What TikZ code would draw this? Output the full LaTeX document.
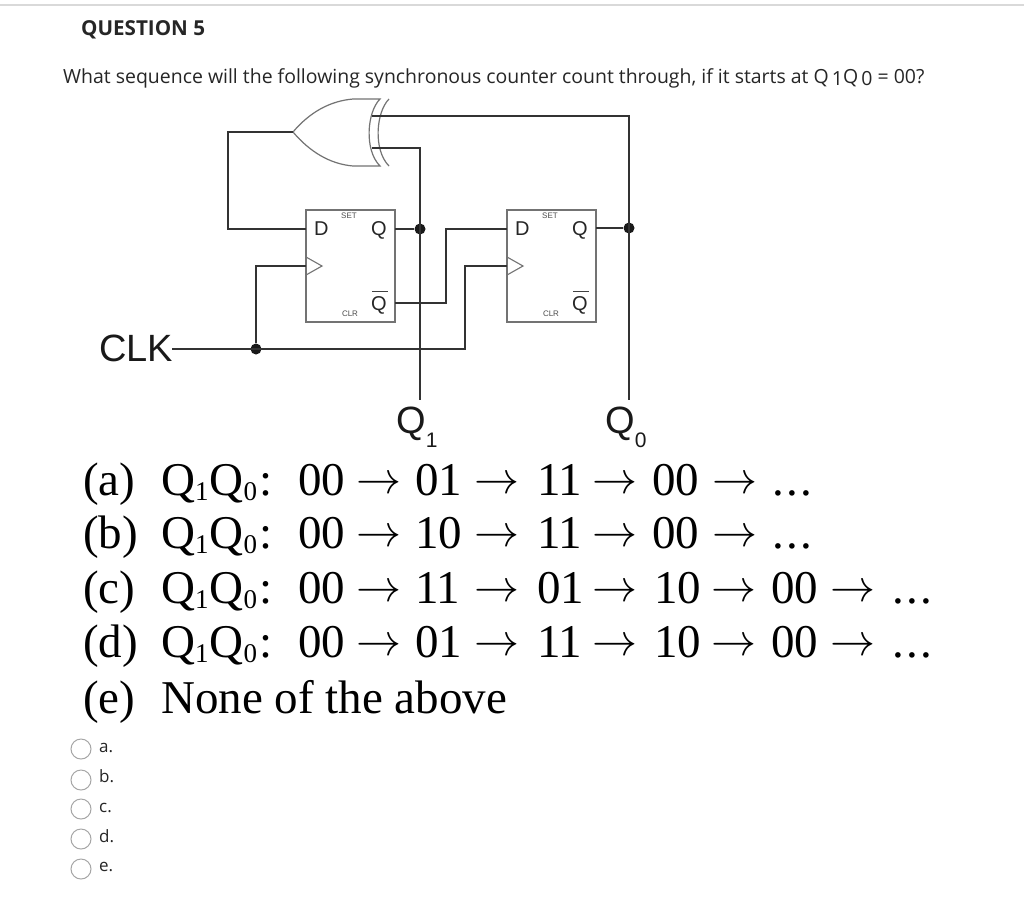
\documentclass[tikz,border=0pt]{standalone}
\usepackage{graphicx}
\usepackage{fontspec}
\setmainfont{Liberation Serif}
\newfontfamily\osans{Open Sans}
\newfontfamily\arial{Liberation Sans}
\newcommand{\fs}[1]{\fontsize{#1}{#1}\selectfont}
\newcommand{\cell}[2]{\makebox[#1pt][l]{#2}}
\newcommand{\QQ}{Q\raisebox{-5pt}{\fs{27}1}\hspace{1pt}Q\raisebox{-5pt}{\fs{27}0}\hspace{2pt}:}
\newcommand{\arr}{\raisebox{2pt}{\resizebox{45pt}{!}{\fontsize{10}{10}\selectfont$\rightarrow$}}}
\newcommand{\dotsx}{.\hspace{2.5pt}.\hspace{2.5pt}.}
\tikzset{
  wire/.style={draw=black!80,line width=1.2pt},
  gate/.style={draw=black!55,line width=1.2pt},
  ffbox/.style={draw=black!55,line width=1.3pt,minimum width=89pt,minimum height=112pt,inner sep=0pt},
  dotj/.style={circle,fill=black!90,minimum size=11pt,inner sep=0pt},
  seq/.style={anchor=base west,inner sep=0pt,font=\fs{47}},
  pin/.style={anchor=base west,inner sep=0pt,text=black!85,font=\arial\fs{20}},
  tiny/.style={anchor=base,inner sep=0pt,text=black!70,font=\arial\fs{8}},
  big/.style={anchor=base west,inner sep=0pt,text=black!90,font=\arial\fs{38}},
  radio/.style={circle,draw=black!35,line width=1pt,minimum size=20pt,inner sep=0pt},
  opt/.style={anchor=base west,inner sep=0pt,text=black!85,font=\osans\fs{17}},
}
\begin{document}
\begin{tikzpicture}[x=1pt,y=-1pt]
\useasboundingbox (0,0) rectangle (1024,922);
\fill[white] (0,0) rectangle (1024,922);
\draw[black!15,line width=1.5pt] (0,5) -- (1024,5);
\node[anchor=base west,inner sep=0pt,text=black!85,font=\osans\bfseries\fs{20.6}] (title) at (81,35) {QUESTION 5};
\node[anchor=base west,inner sep=0pt,text=black!85,font=\osans\fs{19.45}] (ask) at (63,83) {What sequence will the following synchronous counter count through, if it starts at Q\,\raisebox{-2pt}{1}Q\,\raisebox{-2pt}{0} = 00?};

% flip-flops
\node[ffbox] (ff1) at (350.5,266) {};
\node[ffbox] (ff2) at (551.5,266) {};
\foreach \f/\x in {a/306,b/507}{
  \node[pin] (d\f) at (\x+8,235) {D};
  \node[pin] (q\f) at (\x+65,235) {Q};
  \node[pin] (n\f) at (\x+65,310) {Q};
  \draw[black!75,line width=1pt] (\x+66,291) -- (\x+82,291);
  \node[tiny] (s\f) at (\x+43,218) {SET};
  \node[tiny] (c\f) at (\x+44,316) {CLR};
  \draw[black!55,line width=1.1pt] (\x,257) -- (\x+16,266) -- (\x,275);
}
% XOR gate
\coordinate (gout) at (293,132);
\coordinate (gin1) at (372,116);
\coordinate (gin2) at (372,148);
\draw[gate] (gout) .. controls (310,112) and (330,101) .. (353,99) -- (380,99)
   .. controls (367,112) and (364,150) .. (380,166) -- (353,166)
   .. controls (330,164) and (310,152) .. (gout);
\draw[gate] (389,99) .. controls (376,112) and (373,150) .. (389,166);

% junctions
\node[dotj] (j1) at (420,229) {};
\node[dotj] (j0) at (629,228) {};
\node[dotj] (jc) at (256,349) {};
\coordinate (e1) at (420,400);
\coordinate (e0) at (629,400);
\coordinate (dA) at (306,229);
\coordinate (dB) at (507,229);
\coordinate (ckA) at (306,266);
\coordinate (ckB) at (507,266);
\coordinate (qA) at (395,229);
\coordinate (qB) at (596,228);
\coordinate (nA) at (395,303);
\coordinate (clkstart) at (172,349);

\draw[wire] (gout) -- (228,132) -- (228,229) -- (dA);
\draw[wire] (gin1) -- (629,116) -- (e0);
\draw[wire] (gin2) -- (420,148) -- (e1);
\draw[wire] (qA) -- (j1);
\draw[wire] (qB) -- (j0);
\draw[wire] (nA) -- (446,303) -- (446,229) -- (dB);
\draw[wire] (clkstart) -- (465,349) -- (465,266) -- (ckB);
\draw[wire] (jc) -- (256,266) -- (ckA);

\node[big] (clk) at (99,361) {CLK};
\node[big] (q1) at (396,433) {Q\raisebox{-14pt}{\fs{21}1}};
\node[big] (q0) at (605,433) {Q\raisebox{-14pt}{\fs{21}0}};

% answer lines
\node[seq] (la) at (83,495) {\cell{78}{(a)}\cell{137}{\QQ}\cell{58}{00}\cell{59}{\arr}\cell{59}{01}\cell{63}{\arr}\cell{55}{11}\cell{60}{\arr}\cell{60}{00}\cell{60}{\arr}\dotsx};
\node[seq] (lb) at (83,548) {\cell{78}{(b)}\cell{137}{\QQ}\cell{58}{00}\cell{59}{\arr}\cell{59}{10}\cell{63}{\arr}\cell{55}{11}\cell{60}{\arr}\cell{60}{00}\cell{60}{\arr}\dotsx};
\node[seq] (lc) at (83,603) {\cell{78}{(c)}\cell{137}{\QQ}\cell{58}{00}\cell{59}{\arr}\cell{59}{11}\cell{63}{\arr}\cell{55}{01}\cell{62}{\arr}\cell{57}{10}\cell{60}{\arr}\cell{59}{00}\cell{62}{\arr}\dotsx};
\node[seq] (ld) at (83,657) {\cell{78}{(d)}\cell{137}{\QQ}\cell{58}{00}\cell{59}{\arr}\cell{59}{01}\cell{63}{\arr}\cell{55}{11}\cell{62}{\arr}\cell{57}{10}\cell{60}{\arr}\cell{59}{00}\cell{62}{\arr}\dotsx};
\node[seq] (le) at (83,713) {\cell{78}{(e)}None of the above};

% radio options
\foreach \n/\y/\b/\t in {ra/749/752/a.,rb/780/782/b.,rc/809/812/c.,rd/839/842/d.,re/869/871/e.}{
  \node[radio] (\n) at (81,\y) {};
  \node[opt] (t\n) at (99,\b) {\t};
}
\end{tikzpicture}
\end{document}
